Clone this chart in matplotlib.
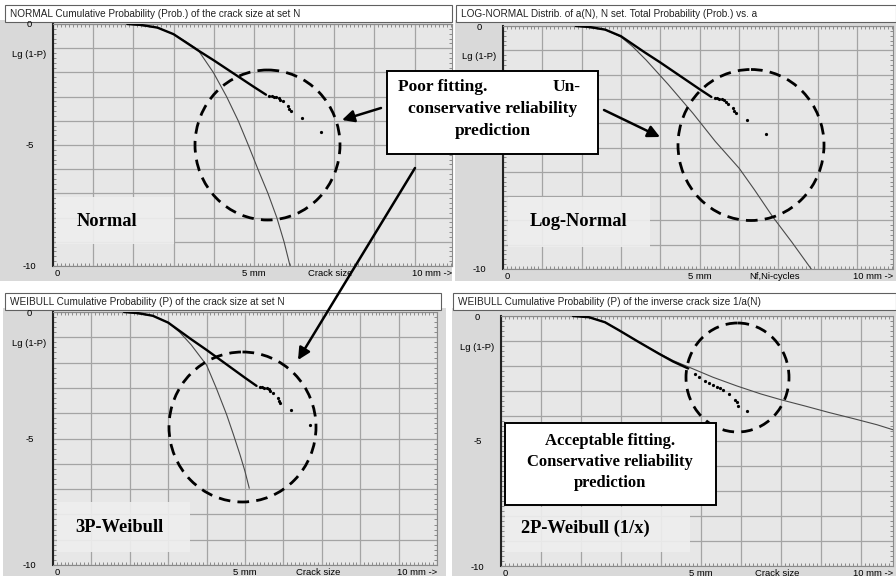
import matplotlib.pyplot as plt
from matplotlib.patches import Rectangle, Ellipse
from matplotlib.ticker import MultipleLocator

W, H = 896, 582

# crack size a(N) in mm vs Lg(1-P), same sample for three fits
crack_a = [1.85, 2.2, 2.6, 3.0, 3.3, 3.6, 4.0, 4.5, 5.0, 5.3]
crack_lg = [0.0, -0.04, -0.15, -0.42, -0.75, -1.08, -1.5, -2.05, -2.6, -2.92]
tail_a = [5.38, 5.44, 5.5, 5.56, 5.62, 5.66, 5.72, 5.85, 5.88, 5.92, 6.2, 6.68]
tail_lg = [-2.96, -2.98, -3.0, -3.02, -3.05, -3.12, -3.2, -3.38, -3.5, -3.6, -3.87, -4.45]

# same sample, inverse crack size transform
inv_a = [1.8, 2.2, 2.6, 2.96, 3.4, 3.96, 4.3, 4.68]
inv_lg = [0.0, -0.05, -0.25, -0.58, -1.0, -1.52, -1.82, -2.1]
inv_tail_a = [4.85, 4.95, 5.1, 5.2, 5.3, 5.4, 5.48, 5.55, 5.7, 5.85, 5.9, 5.93, 6.15]
inv_tail_lg = [-2.3, -2.42, -2.58, -2.66, -2.75, -2.82, -2.88, -2.95, -3.12, -3.35, -3.45, -3.58, -3.78]

# fitted distributions
normal_a = [1.85, 2.6, 3.0, 3.3, 3.6, 3.99, 4.32, 4.61, 4.86, 5.1, 5.35, 5.57, 5.75, 5.9]
normal_lg = [0, -0.15, -0.42, -0.72, -1.05, -2.0, -3.0, -4.0, -5.0, -6.0, -7.0, -8.0, -9.0, -10.0]
lognormal_a = [1.85, 2.6, 3.0, 3.3, 3.64, 4.2, 4.83, 5.4, 6.01, 6.4, 6.86, 7.35, 7.84]
lognormal_lg = [0, -0.15, -0.45, -0.85, -1.4, -2.4, -3.59, -4.75, -5.86, -6.75, -7.85, -8.9, -10.0]
weibull3_a = [1.85, 2.6, 3.0, 3.3, 3.6, 4.0, 4.25, 4.52, 4.7, 4.87, 5.0, 5.11]
weibull3_lg = [0, -0.15, -0.42, -0.8, -1.3, -2.1, -3.0, -4.05, -4.85, -5.64, -6.3, -6.96]
weibull2_a = [1.8, 2.2, 2.6, 2.96, 3.4, 3.96, 4.3, 4.63, 5.3, 5.9, 6.5, 7.0, 7.6, 8.2, 8.8, 9.4, 9.8]
weibull2_lg = [0, -0.05, -0.25, -0.58, -1.0, -1.5, -1.78, -2.0, -2.45, -2.8, -3.12, -3.35,
               -3.6, -3.86, -4.1, -4.35, -4.55]

titles = ["NORMAL Cumulative Probability (Prob.) of the crack size at set N",
          "LOG-NORMAL Distrib. of a(N), N set. Total Probability (Prob.) vs. a",
          "WEIBULL Cumulative Probability (P) of the crack size at set N",
          "WEIBULL Cumulative Probability (P) of the inverse crack size 1/a(N)"]
xnames = ["Crack size", "Nf,Ni-cycles", "Crack size", "Crack size"]
labels = ["Normal", "Log-Normal", "3P-Weibull", "2P-Weibull (1/x)"]

SANS = "Liberation Sans"
SERIF = "Liberation Serif"


def frac(x0, y0, x1, y1):
    return [x0 / W, 1 - y1 / H, (x1 - x0) / W, (y1 - y0) / H]


fig = plt.figure(figsize=(W / 100, H / 100), dpi=100)
fig.patch.set_facecolor("white")

bg = fig.add_axes([0, 0, 1, 1])
bg.set_xlim(0, W)
bg.set_ylim(H, 0)
bg.axis("off")
bg.set_zorder(0)


def panel(gray, tbox, title, pbox, xmax, xname):
    gx0, gy0, gx1, gy1 = gray
    bg.add_patch(Rectangle((gx0, gy0), gx1 - gx0, gy1 - gy0, fc="#d9d9d9", ec="none"))
    tx0, ty0, tx1, ty1 = tbox
    bg.add_patch(Rectangle((tx0, ty0), tx1 - tx0, ty1 - ty0, fc="white", ec="#606060", lw=0.8))
    bg.text(tx0 + 5, (ty0 + ty1) / 2 + 0.5, title, fontsize=7.2, family=SANS,
            va="center", ha="left", color="#222222")

    ax = fig.add_axes(frac(*pbox))
    ax.set_zorder(1)
    ax.set_facecolor("#e7e7e7")
    ax.set_xlim(0, xmax)
    ax.set_ylim(-10, 0)
    ax.xaxis.set_major_locator(MultipleLocator(1))
    ax.xaxis.set_minor_locator(MultipleLocator(0.1))
    ax.yaxis.set_minor_locator(MultipleLocator(0.2))
    ax.grid(True, which="major", color="#a4a4a4", lw=0.9)
    ax.tick_params(which="major", length=0, labelsize=6.5)
    ax.tick_params(which="minor", direction="in", length=2.0, width=0.5, color="#666666",
                   top=True, right=True)
    ax.set_xticklabels([])
    ax.set_yticks(range(-10, 1))
    ax.set_yticklabels(["-10", "", "", "", "", "-5", "", "", "", "", "0"],
                       family=SANS, fontsize=6.8)
    for t in ax.get_yticklabels():
        t.set_ha("center")
    ax.tick_params(axis="y", pad=17)
    for side in ["top", "right", "bottom"]:
        ax.spines[side].set_color("#8a8a8a")
        ax.spines[side].set_linewidth(0.8)
    ax.spines["left"].set_color("#222222")
    ax.spines["left"].set_linewidth(1.5)

    h = pbox[3] - pbox[1]
    tr = ax.get_xaxis_transform()
    yb = -7.5 / h
    ax.text(0.05, yb, "0", transform=tr, fontsize=6.8, family=SANS, ha="left", va="center")
    ax.text(5, yb, "5 mm", transform=tr, fontsize=6.8, family=SANS, ha="center", va="center")
    ax.text(6.9, yb, xname, transform=tr, fontsize=6.8, family=SANS, ha="center", va="center")
    ax.text(1.0, yb, "10 mm ->", transform=ax.transAxes, fontsize=6.8, family=SANS,
            ha="right", va="center")
    ax.text(-24 / (pbox[2] - pbox[0]), -1.25, "Lg (1-P)", transform=ax.get_yaxis_transform(),
            fontsize=6.8, family=SANS, ha="center", va="center")
    return ax


ax1 = panel((0, 20, 452, 281), (5, 5, 452, 22), titles[0], (53, 24, 452, 266), 9.93, xnames[0])
ax2 = panel((455, 20, 896, 281), (456, 5, 896, 22), titles[1], (503, 26, 893, 269), 9.92, xnames[1])
ax3 = panel((3, 308, 446, 576), (5, 293, 441, 310), titles[2], (53, 312, 437, 565), 10.0, xnames[2])
ax4 = panel((452, 308, 896, 576), (453, 293, 896, 310), titles[3], (501, 316, 893, 566), 9.8, xnames[3])

fits = [(ax1, normal_a, normal_lg), (ax2, lognormal_a, lognormal_lg),
        (ax3, weibull3_a, weibull3_lg)]
for ax, fa, flg in fits:
    ax.plot(fa, flg, color="#4a4a4a", lw=0.8, zorder=3)
    ax.plot(crack_a, crack_lg, color="black", lw=1.7, zorder=4, solid_capstyle="round")
    ax.plot(tail_a, tail_lg, "o", color="black", ms=1.3, zorder=4)

ax4.plot(weibull2_a, weibull2_lg, color="#4a4a4a", lw=0.8, zorder=3)
ax4.plot(inv_a, inv_lg, color="black", lw=1.7, zorder=4, solid_capstyle="round")
ax4.plot(inv_tail_a, inv_tail_lg, "o", color="black", ms=1.3, zorder=4)

# annotation layer in pixel coordinates
ov = fig.add_axes([0, 0, 1, 1])
ov.set_xlim(0, W)
ov.set_ylim(H, 0)
ov.axis("off")
ov.patch.set_alpha(0)
ov.set_zorder(10)

label_boxes = [(56, 197, 174, 244), (508, 197, 650, 247), (57, 502, 190, 552), (505, 507, 690, 552)]
label_pos = [(107, 222), (578, 222), (119, 528), (585, 528)]
for (x0, y0, x1, y1), (lx, ly), lab in zip(label_boxes, label_pos, labels):
    ov.add_patch(Rectangle((x0, y0), x1 - x0, y1 - y0, fc="#eeeeee", ec="none", alpha=0.92))
    ov.text(lx, ly, lab, fontsize=13.3, family=SERIF, weight="bold", ha="center", va="center")

for cx, cy, w, h in [(267.5, 145, 145, 150), (751, 145, 146, 151),
                     (242.5, 427, 147, 150), (737.5, 377.5, 103, 109)]:
    ov.add_patch(Ellipse((cx, cy), w, h, fill=False, ec="black", lw=2.0,
                         ls=(0, (4.2, 2.6))))

# callout boxes
ov.add_patch(Rectangle((387, 71), 211, 83, fc="white", ec="black", lw=1.4))
tb = dict(fontsize=12.5, family=SERIF, weight="bold", va="center")
ov.text(398, 87, "Poor fitting.", ha="left", **tb)
ov.text(581, 87, "Un-", ha="right", **tb)
ov.text(493, 109, "conservative reliability", ha="center", **tb)
ov.text(493, 131, "prediction", ha="center", **tb)

ov.add_patch(Rectangle((505, 423), 211, 82, fc="white", ec="black", lw=1.4))
tb["fontsize"] = 12
ov.text(610, 441, "Acceptable fitting.", ha="center", **tb)
ov.text(610, 462, "Conservative reliability", ha="center", **tb)
ov.text(610, 483, "prediction", ha="center", **tb)

arrow = dict(arrowstyle="-|>", lw=1.8, color="black", mutation_scale=18, shrinkA=0, shrinkB=0)
ov.annotate("", xy=(342, 120), xytext=(381, 108), arrowprops=arrow)
ov.annotate("", xy=(660, 137), xytext=(604, 110), arrowprops=arrow)
ov.annotate("", xy=(298, 360), xytext=(415, 168), arrowprops=arrow)

fig.savefig("out.png", dpi=100)
